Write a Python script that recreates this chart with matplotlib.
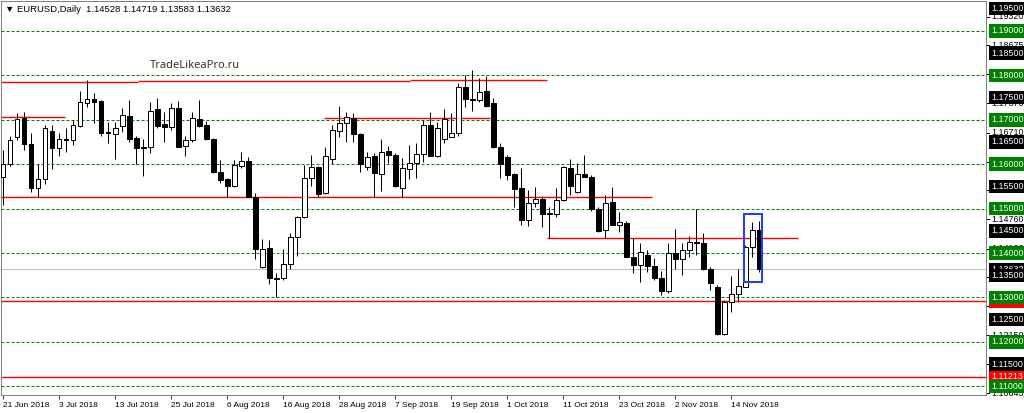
import matplotlib
matplotlib.use("Agg")
import matplotlib.pyplot as plt
import matplotlib.transforms as mtransforms
from matplotlib.patches import Rectangle
import numpy as np
import pandas as pd

# EURUSD daily candles, 21 Jun 2018 .. 20 Nov 2018 (business days)
dates = pd.bdate_range("2018-06-21", periods=109)

opens = [1.15712, 1.16005, 1.16613, 1.17041, 1.16455, 1.15464, 1.15667, 1.16748, 1.16365, 1.16568,
         1.16545, 1.16860, 1.17378, 1.17469, 1.17424, 1.16725, 1.16680, 1.16860, 1.17086, 1.16590,
         1.16388, 1.16388, 1.17243, 1.16906, 1.16838, 1.17266, 1.16410, 1.16545, 1.17018, 1.16883,
         1.16568, 1.15825, 1.15667, 1.15509, 1.15960, 1.16072, 1.15262, 1.13685, 1.14113, 1.13437,
         1.13437, 1.13753, 1.14361, 1.14811, 1.15689, 1.15937, 1.15352, 1.16117, 1.16748, 1.16928,
         1.17041, 1.16680, 1.15937, 1.16185, 1.15780, 1.16298, 1.16207, 1.15464, 1.15892, 1.16027,
         1.16230, 1.16883, 1.16185, 1.16568, 1.16613, 1.16703, 1.17739, 1.17469, 1.17446, 1.17649,
         1.17378, 1.16388, 1.16162, 1.15780, 1.15464, 1.14744, 1.15126, 1.15217, 1.14901, 1.14879,
         1.15194, 1.15915, 1.15374, 1.15780, 1.15712, 1.14991, 1.14518, 1.15149, 1.14631, 1.14676,
         1.13910, 1.13730, 1.13955, 1.13708, 1.13437, 1.13145, 1.14000, 1.13865, 1.14068, 1.14248,
         1.14226, 1.13640, 1.13235, 1.12176, 1.12897, 1.13077, 1.13235, 1.14136, 1.14528]

highs = [1.16320, 1.16635, 1.17153, 1.17176, 1.16703, 1.16005, 1.16883, 1.16883, 1.16703, 1.16815,
         1.16996, 1.17649, 1.17896, 1.17604, 1.17446, 1.16951, 1.16951, 1.17266, 1.17446, 1.16635,
         1.16568, 1.17401, 1.17491, 1.17176, 1.17378, 1.17424, 1.16635, 1.17176, 1.17446, 1.16973,
         1.16590, 1.16095, 1.15689, 1.16095, 1.16275, 1.16162, 1.15352, 1.14316, 1.14293, 1.13550,
         1.14091, 1.14451, 1.14834, 1.15982, 1.16207, 1.15960, 1.16388, 1.16883, 1.17311, 1.17176,
         1.17153, 1.16703, 1.16275, 1.16252, 1.16568, 1.16410, 1.16252, 1.16140, 1.16433, 1.16478,
         1.16996, 1.17176, 1.16951, 1.17243, 1.17153, 1.17829, 1.18009, 1.18122, 1.17941, 1.17987,
         1.17491, 1.16478, 1.16207, 1.15802, 1.15915, 1.15419, 1.15487, 1.15284, 1.15036, 1.15464,
         1.15960, 1.16117, 1.16027, 1.16207, 1.15757, 1.15036, 1.15307, 1.15487, 1.14924, 1.14721,
         1.14338, 1.14226, 1.14068, 1.13888, 1.13595, 1.14226, 1.14541, 1.14226, 1.14383, 1.14991,
         1.14451, 1.13685, 1.13280, 1.12942, 1.13483, 1.13640, 1.14181, 1.14699, 1.14719]

lows = [1.15081, 1.15960, 1.16545, 1.16320, 1.15374, 1.15262, 1.15554, 1.15892, 1.16185, 1.16275,
        1.16433, 1.16838, 1.17288, 1.16928, 1.16635, 1.16478, 1.16117, 1.16725, 1.16500, 1.16005,
        1.15735, 1.16252, 1.16815, 1.16500, 1.16770, 1.16388, 1.16185, 1.16500, 1.16838, 1.16545,
        1.15802, 1.15577, 1.15262, 1.15487, 1.15915, 1.15262, 1.13865, 1.13663, 1.13302, 1.13010,
        1.13392, 1.13640, 1.13933, 1.14789, 1.15509, 1.15262, 1.15329, 1.16005, 1.16613, 1.16500,
        1.16500, 1.15825, 1.15870, 1.15262, 1.15397, 1.16027, 1.15487, 1.15262, 1.15667, 1.15689,
        1.16050, 1.16185, 1.16162, 1.16478, 1.16613, 1.16635, 1.17288, 1.17198, 1.17401, 1.17288,
        1.16365, 1.15689, 1.15644, 1.15036, 1.14631, 1.14609, 1.15036, 1.14586, 1.14338, 1.14811,
        1.15172, 1.15307, 1.15352, 1.15712, 1.14946, 1.14473, 1.14338, 1.14631, 1.14473, 1.13910,
        1.13550, 1.13347, 1.13573, 1.13392, 1.13055, 1.13100, 1.13640, 1.13505, 1.13910, 1.13955,
        1.13618, 1.13167, 1.12154, 1.12154, 1.12672, 1.12897, 1.13235, 1.13910, 1.13583]

closes = [1.16005, 1.16545, 1.17018, 1.16455, 1.15464, 1.15667, 1.16815, 1.16365, 1.16568, 1.16545,
          1.16883, 1.17401, 1.17469, 1.17401, 1.16703, 1.16703, 1.16815, 1.17108, 1.16568, 1.16365,
          1.16365, 1.17198, 1.16860, 1.16838, 1.17266, 1.16388, 1.16545, 1.17041, 1.16860, 1.16568,
          1.15825, 1.15644, 1.15509, 1.15982, 1.16072, 1.15262, 1.14091, 1.14091, 1.13437, 1.13415,
          1.13753, 1.14361, 1.14811, 1.15689, 1.15937, 1.15329, 1.16185, 1.16770, 1.16928, 1.17063,
          1.16680, 1.16005, 1.16162, 1.15802, 1.16275, 1.16207, 1.15509, 1.15915, 1.16027, 1.16230,
          1.16883, 1.16185, 1.16815, 1.17018, 1.16703, 1.17739, 1.17469, 1.17446, 1.17626, 1.17311,
          1.16388, 1.16005, 1.15757, 1.15442, 1.14744, 1.15126, 1.15217, 1.14879, 1.14879, 1.15194,
          1.15937, 1.15509, 1.15780, 1.15712, 1.14991, 1.14496, 1.15126, 1.14631, 1.14699, 1.13910,
          1.13730, 1.14023, 1.13708, 1.13437, 1.13145, 1.14000, 1.13865, 1.14068, 1.14248, 1.14226,
          1.13640, 1.13325, 1.12176, 1.12897, 1.13077, 1.13257, 1.14136, 1.14518, 1.13632]

# horizontal objects on the chart
green_levels = [1.19, 1.18, 1.17, 1.16, 1.15, 1.14, 1.13, 1.12, 1.11]
black_levels = [1.195, 1.185, 1.175, 1.165, 1.155, 1.145, 1.135, 1.125, 1.115]
red_full_levels = [1.12920, 1.11213]
# (price, from bar, to bar)
red_segments = [(1.17852, -0.3, 19.3), (1.17874, 19.3, 58.1), (1.17896, 58.1, 77.7),
                (1.17063, -0.3, 8.9), (1.17041, 45.9, 69.6),
                (1.15262, -0.3, 92.7), (1.14338, 77.7, 113.6)]
bid = 1.13632
scale_labels = [1.19320, 1.18675, 1.18020, 1.17370, 1.16710, 1.16060, 1.15410,
                1.14760, 1.14100, 1.13455, 1.12810, 1.12150, 1.11500, 1.10845]
box_bars = (105.86, 108.43)
box_prices = (1.13347, 1.14879)

fig = plt.figure(figsize=(10.24, 4.13), dpi=100)
ax = fig.add_axes([1 / 1024, 18 / 413, 985 / 1024, 394 / 413])
ax.set_xlim(-0.29, 140.4)
ax.set_ylim(1.10803, 1.19675)
px = 0.72  # one pixel in points

for lvl in green_levels:
    ax.axhline(lvl, color="#008000", lw=px, ls=(0, (3, 2)), zorder=1)
ax.axhline(bid, color="#c0c0c0", lw=px, zorder=1)
for lvl in red_full_levels:
    ax.axhline(lvl, color="#ff0000", lw=1.4 * px, zorder=1.5)
for p, x0, x1 in red_segments:
    ax.hlines(p, x0, x1, color="#ff0000", lw=1.4 * px, zorder=1.5)

o = np.array(opens)
h = np.array(highs)
l = np.array(lows)
c = np.array(closes)
x = np.arange(len(o))
bull = c > o
ax.vlines(x, l, h, color="black", lw=px, zorder=2)
body_lo = np.minimum(o, c)
body_h = np.maximum(np.abs(c - o), 0.00002)
ax.bar(x[bull], body_h[bull], bottom=body_lo[bull], width=0.7,
       color="white", edgecolor="black", lw=px, zorder=3)
ax.bar(x[~bull], body_h[~bull], bottom=body_lo[~bull], width=0.7,
       color="black", edgecolor="black", lw=px, zorder=3)

ax.add_patch(Rectangle((box_bars[0], box_prices[0]), box_bars[1] - box_bars[0],
                       box_prices[1] - box_prices[0], fill=False,
                       edgecolor="#1f3cff", lw=2 * px, zorder=4))

fig.text(150 / 1024, 1 - 66 / 413, "TradeLikeaPro.ru", fontsize=8,
         family="Noto Sans", color="#333333", va="center", ha="left")

fig.text(5 / 1024, 1 - 10 / 413,
         "\u25bc EURUSD,Daily  1.14528 1.14719 1.13583 1.13632",
         fontsize=6.8, family=["Liberation Sans", "DejaVu Sans"],
         va="center", ha="left")

for s in ax.spines.values():
    s.set_color("#808080")
    s.set_linewidth(px)

# date axis
tick_pos = x[::8]
tick_lab = [f"{d.day} {d.strftime('%b %Y')}" for d in dates[::8]]
ax.set_xticks(tick_pos)
ax.set_xticklabels(tick_lab, ha="left", fontsize=6, family="Liberation Sans")
ax.tick_params(axis="x", direction="out", length=3, width=px, pad=2,
               color="#404040")
ax.set_yticks([])

# price scale
tr = mtransforms.blended_transform_factory(fig.transFigure, ax.transData)
lab_x = 991.5 / 1024
fs = 6.4


def price_label(p, text, fc=None, tc="black", z=5):
    kw = dict(transform=tr, fontsize=fs, family="Liberation Sans", color=tc,
              va="center", ha="left", clip_on=False, zorder=z)
    if fc is not None:
        kw["bbox"] = dict(boxstyle="square,pad=0.25", fc=fc, ec="none")
    ax.text(lab_x, p, text, **kw)


for p in scale_labels:
    price_label(p, f"{p:.5f}")
    ax.plot([986 / 1024, 989 / 1024], [p, p], transform=tr, color="black",
            lw=px, clip_on=False)
for p in red_full_levels:
    price_label(p, f"{p:.5f}", fc="#ff0000", tc="white", z=6)
price_label(bid, f"{bid:.5f}", fc="black", tc="white", z=7)
for p in black_levels:
    price_label(p, f"{p:.5f}", fc="black", tc="white", z=8)
for p in green_levels:
    price_label(p, f"{p:.5f}", fc="#008000", tc="white", z=9)

fig.savefig("out.png", dpi=100)
